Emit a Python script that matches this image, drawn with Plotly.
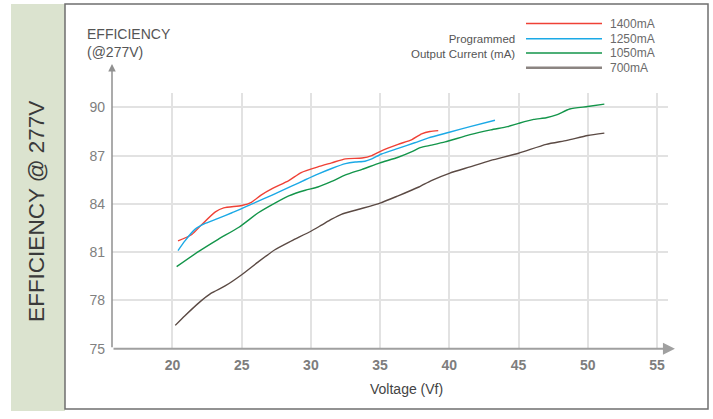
import plotly.graph_objects as go

# Efficiency (%) at 277 V input versus LED string voltage, per programmed current
currents = ["1400mA", "1250mA", "1050mA", "700mA"]
colors = ["#ef4136", "#1ba9e6", "#13954a", "#5b4a44"]
legend_colors = ["#ef4136", "#1ba9e6", "#13954a", "#8b8481"]

v_1400 = [20.4, 21.4, 22.1, 23.1, 23.7, 25.0, 25.7, 26.4, 27.2, 28.4, 29.3, 30.5,
          31.5, 32.5, 33.7, 34.4, 35.1, 36.3, 37.3, 38.0, 38.6, 39.2]
eff_1400 = [81.7, 82.1, 82.7, 83.5, 83.75, 83.9, 84.1, 84.55, 84.95, 85.45, 85.95, 86.3,
            86.55, 86.8, 86.85, 87.0, 87.3, 87.7, 88.0, 88.35, 88.5, 88.55]

v_1250 = [20.4, 20.9, 21.6, 22.4, 23.3, 24.3, 25.0, 26.0, 27.2, 28.6, 29.6, 30.5,
          31.5, 32.5, 33.2, 33.9, 34.4, 35.1, 36.3, 37.5, 38.5, 40.0, 41.5, 43.3]
eff_1250 = [81.1, 81.7, 82.4, 82.8, 83.1, 83.45, 83.7, 84.1, 84.55, 85.1, 85.5, 85.85,
            86.2, 86.5, 86.6, 86.65, 86.8, 87.1, 87.45, 87.8, 88.1, 88.45, 88.8, 89.2]

v_1050 = [20.3, 21.9, 23.3, 24.8, 26.2, 27.4, 28.4, 29.6, 30.5, 31.5, 32.5, 33.7,
          35.0, 36.3, 37.3, 37.9, 38.7, 39.7, 41.5, 43.0, 44.2, 45.0, 46.1, 47.0,
          47.8, 48.7, 50.0, 51.2]
eff_1050 = [80.1, 81.05, 81.8, 82.55, 83.45, 84.05, 84.5, 84.85, 85.05, 85.4, 85.8, 86.15,
            86.55, 86.9, 87.25, 87.5, 87.65, 87.85, 88.3, 88.6, 88.8, 89.0, 89.25, 89.35,
            89.55, 89.9, 90.05, 90.2]

v_700 = [20.2, 20.9, 21.9, 22.8, 23.8, 25.0, 26.2, 27.4, 28.6, 30.0, 30.8, 31.5,
         32.2, 33.4, 35.0, 36.3, 37.8, 38.7, 40.0, 41.5, 43.0, 45.0, 47.0, 48.5,
         50.0, 51.2]
eff_700 = [76.45, 77.05, 77.85, 78.45, 78.9, 79.6, 80.4, 81.15, 81.7, 82.3, 82.7, 83.05,
           83.35, 83.65, 84.05, 84.5, 85.05, 85.45, 85.9, 86.3, 86.7, 87.15, 87.7, 87.95,
           88.25, 88.4]

x_ticks = [20, 25, 30, 35, 40, 45, 50, 55]
y_ticks = [75, 78, 81, 84, 87, 90]

W, H = 713, 419
FONT = "Liberation Sans, Arial, sans-serif"


def px(x):
    return x / W


def py(y):
    return 1 - y / H


series = [(v_1400, eff_1400), (v_1250, eff_1250), (v_1050, eff_1050), (v_700, eff_700)]

fig = go.Figure()
for (vx, vy), name, col in zip(series, currents, colors):
    fig.add_trace(go.Scatter(
        x=vx, y=vy, mode="lines", name=name,
        line=dict(color=col, width=1.4, shape="spline", smoothing=0.6),
        showlegend=False, hoverinfo="x+y+name",
    ))

x_range = [15.63, 55.8]
y_range = [75, 90.88]

fig.update_layout(
    width=W, height=H,
    margin=dict(l=0, r=0, t=0, b=0),
    paper_bgcolor="white", plot_bgcolor="white",
    font=dict(family=FONT, color="#666"),
    xaxis=dict(
        domain=[px(112), px(668)], range=x_range, tickvals=x_ticks,
        showgrid=True, gridcolor="#e2e2e2", gridwidth=1.5,
        zeroline=False, showline=False, ticks="",
        tickfont=dict(family=FONT, size=14, color="#7d7d7d", weight="bold"),
        ticklabelstandoff=6,
    ),
    yaxis=dict(
        domain=[py(355.5), py(95)], range=y_range, tickvals=y_ticks,
        showgrid=True, gridcolor="#e2e2e2", gridwidth=1.5,
        zeroline=False, showline=False, ticks="",
        tickfont=dict(family=FONT, size=14, color="#808080"),
        ticklabelstandoff=6,
    ),
)

shapes = [
    # green side panel
    dict(type="rect", xref="paper", yref="paper", x0=px(11), x1=px(65), y0=py(419), y1=py(4),
         fillcolor="#dbe3cf", line=dict(width=0), layer="below"),
    # framed chart card
    dict(type="rect", xref="paper", yref="paper", x0=px(65), x1=px(708), y0=py(417), y1=py(4),
         fillcolor="rgba(0,0,0,0)", line=dict(color="#6f6f6f", width=1.5)),
]

# legend swatches
legend_y = [24, 39.5, 54, 69]
for col, ly, lbl in zip(legend_colors, legend_y, currents):
    shapes.append(dict(type="line", xref="paper", yref="paper",
                       x0=px(526), x1=px(602), y0=py(ly), y1=py(ly),
                       line=dict(color=col, width=2.6 if lbl == "700mA" else 1.5)))

annotations = []
for ly, lbl in zip(legend_y, currents):
    annotations.append(dict(xref="paper", yref="paper", x=px(608), y=py(ly), text=lbl,
                            showarrow=False, xanchor="left", yanchor="middle",
                            font=dict(family=FONT, size=12, color="#6a6a6a")))

annotations += [
    dict(xref="paper", yref="paper", x=px(517), y=py(47),
         text="Programmed<br>Output Current (mA)",
         showarrow=False, xanchor="right", yanchor="middle", align="right",
         font=dict(family=FONT, size=11.5, color="#555")),
    dict(xref="paper", yref="paper", x=px(85), y=py(35), text="EFFICIENCY",
         showarrow=False, xanchor="left", yanchor="middle",
         font=dict(family=FONT, size=14, color="#555")),
    dict(xref="paper", yref="paper", x=px(85), y=py(53), text="(@277V)",
         showarrow=False, xanchor="left", yanchor="middle",
         font=dict(family=FONT, size=14, color="#555")),
    dict(xref="paper", yref="paper", x=px(406), y=py(397), text="Voltage (Vf)",
         showarrow=False, xanchor="center", yanchor="middle",
         font=dict(family=FONT, size=14, color="#444")),
    dict(xref="paper", yref="paper", x=px(37), y=py(216), text="EFFICIENCY @ 277V",
         showarrow=False, textangle=-90, xanchor="center", yanchor="middle",
         font=dict(family=FONT, size=22.5, color="#3a3a3a")),
    # axis arrows
    dict(xref="x", yref="y", axref="x", ayref="y",
         x=56.3, y=75, ax=x_range[0], ay=75, text="", showarrow=True,
         arrowhead=2, arrowsize=1.2, arrowwidth=2, arrowcolor="#a0a0a0"),
    dict(xref="x", yref="y", axref="x", ayref="y",
         x=x_range[0], y=92.7, ax=x_range[0], ay=75, text="", showarrow=True,
         arrowhead=2, arrowsize=1.0, arrowwidth=1.5, arrowcolor="#909090"),
]

fig.update_layout(shapes=shapes, annotations=annotations)
fig.write_html("out.html")
